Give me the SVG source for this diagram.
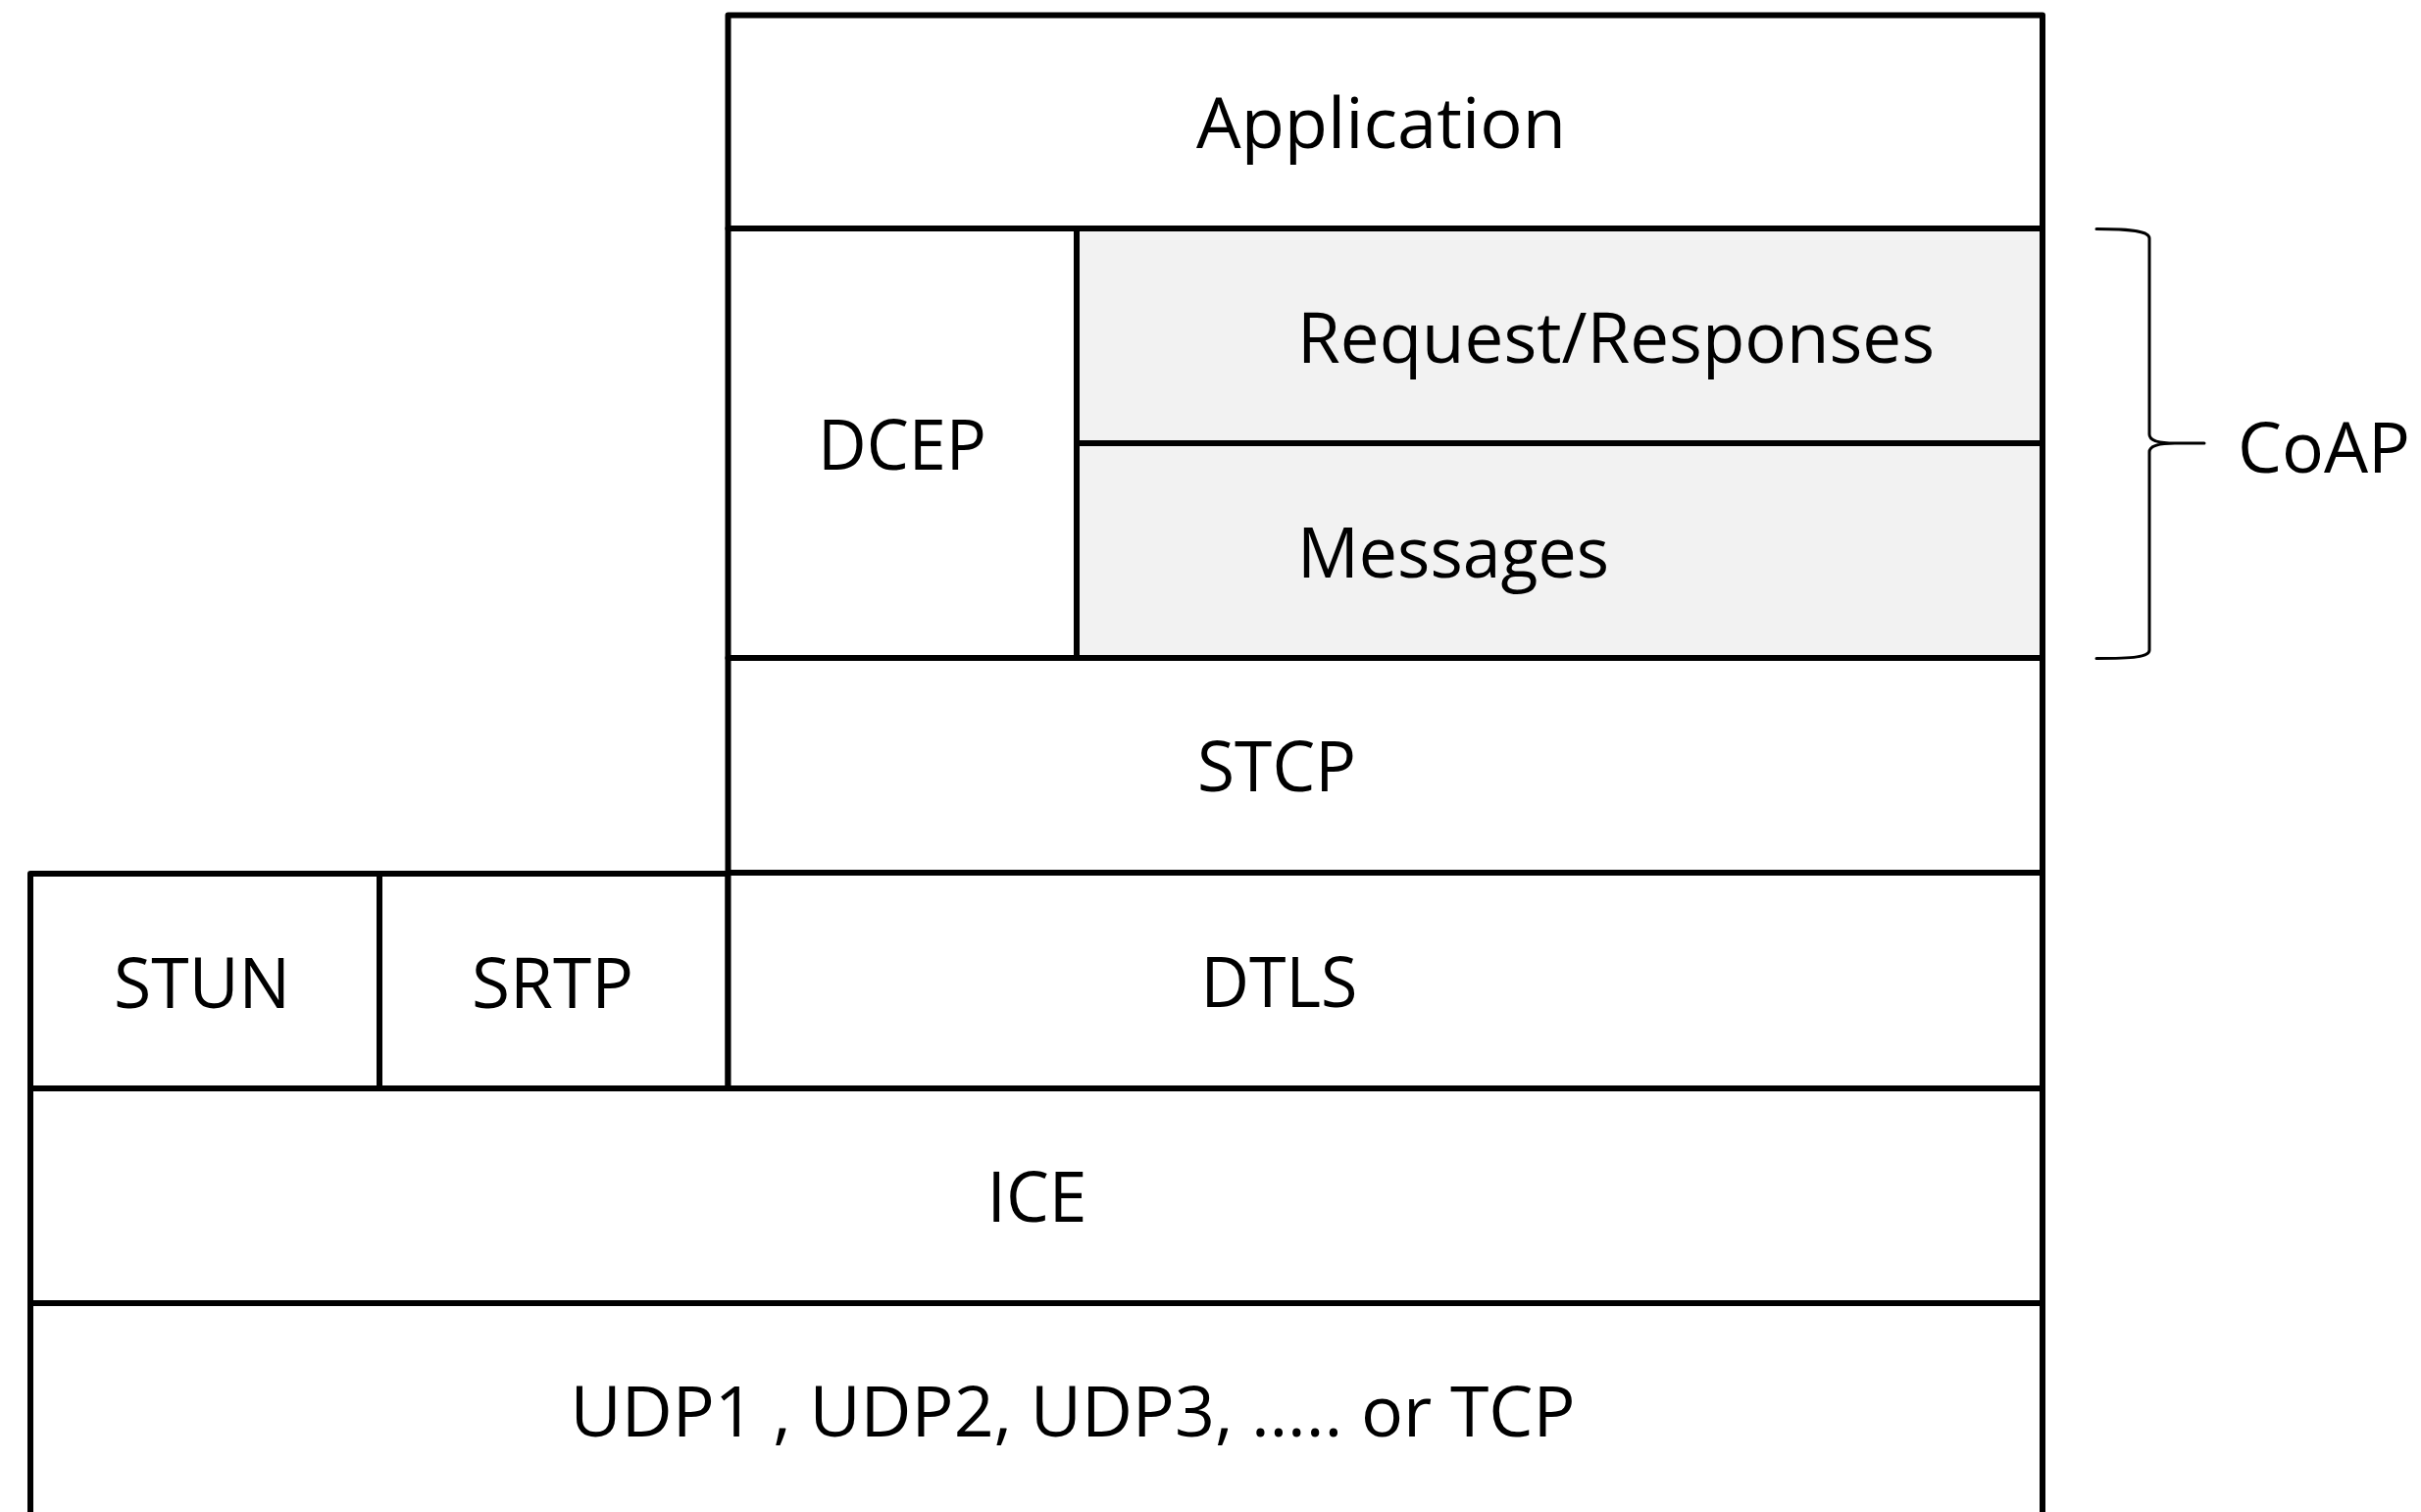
<svg xmlns="http://www.w3.org/2000/svg" width="2469" height="1542" viewBox="0 0 2469 1542">
  <style>
    .box { fill: #ffffff; stroke: #000000; stroke-width: 6; stroke-linejoin: round; }
    .grey { fill: #f2f2f2; }
    .lbl { font-family: "Open Sans", "Noto Sans", "Liberation Sans", sans-serif; font-size: 71px; fill: #000000; }
    .mid { text-anchor: middle; }
    .brace { fill: none; stroke: #000000; stroke-width: 3; stroke-linecap: round; stroke-linejoin: round; }
  </style>
  <rect x="0" y="0" width="2469" height="1542" fill="#ffffff"/>

  <g id="node-udp">
    <rect class="box" x="31" y="1329" width="2052" height="240"/>
    <text class="lbl mid" x="1094" y="1465" textLength="1025" lengthAdjust="spacingAndGlyphs">UDP1 , UDP2, UDP3, ….. or TCP</text>
  </g>
  <g id="node-ice">
    <rect class="box" x="31" y="1110" width="2052" height="219"/>
    <text class="lbl mid" x="1057.5" y="1246" textLength="102" lengthAdjust="spacingAndGlyphs">ICE</text>
  </g>
  <g id="node-stun">
    <rect class="box" x="31" y="891" width="356" height="219"/>
    <text class="lbl mid" x="206" y="1028" textLength="180" lengthAdjust="spacingAndGlyphs">STUN</text>
  </g>
  <g id="node-srtp">
    <rect class="box" x="387" y="891" width="355.5" height="219"/>
    <text class="lbl mid" x="563.5" y="1028" textLength="165" lengthAdjust="spacingAndGlyphs">SRTP</text>
  </g>
  <g id="node-dtls">
    <rect class="box" x="742.5" y="890" width="1340.5" height="220"/>
    <text class="lbl mid" x="1304.5" y="1027" textLength="160" lengthAdjust="spacingAndGlyphs">DTLS</text>
  </g>
  <g id="node-stcp">
    <rect class="box" x="742.5" y="671" width="1340.5" height="219"/>
    <text class="lbl mid" x="1302" y="807" textLength="162" lengthAdjust="spacingAndGlyphs">STCP</text>
  </g>
  <g id="node-dcep">
    <rect class="box" x="742.5" y="233" width="355.5" height="438"/>
    <text class="lbl mid" x="920" y="479" textLength="172" lengthAdjust="spacingAndGlyphs">DCEP</text>
  </g>
  <g id="node-request-responses">
    <rect class="box grey" x="1098" y="233" width="985" height="219"/>
    <text class="lbl" x="1323" y="370" textLength="650" lengthAdjust="spacingAndGlyphs">Request/Responses</text>
  </g>
  <g id="node-messages">
    <rect class="box grey" x="1098" y="452" width="985" height="219"/>
    <text class="lbl" x="1323" y="589" textLength="318" lengthAdjust="spacingAndGlyphs">Messages</text>
  </g>
  <g id="node-application">
    <rect class="box" x="742.5" y="15.5" width="1340.5" height="217.5"/>
    <text class="lbl mid" x="1408.5" y="151" textLength="377" lengthAdjust="spacingAndGlyphs">Application</text>
  </g>

  <g id="connectors">
    <path class="brace" d="M2138,233.5 C2176,233.5 2192,236 2192,243 L2192,443 C2192,448.5 2200,452 2218,452 L2248,452 M2218,452 C2200,452 2192,455.5 2192,461 L2192,663 C2192,670 2176,671.5 2138,671.5"/>
  </g>
  <g id="node-coap">
    <text class="lbl mid" x="2370" y="482" textLength="176" lengthAdjust="spacingAndGlyphs">CoAP</text>
  </g>
</svg>
